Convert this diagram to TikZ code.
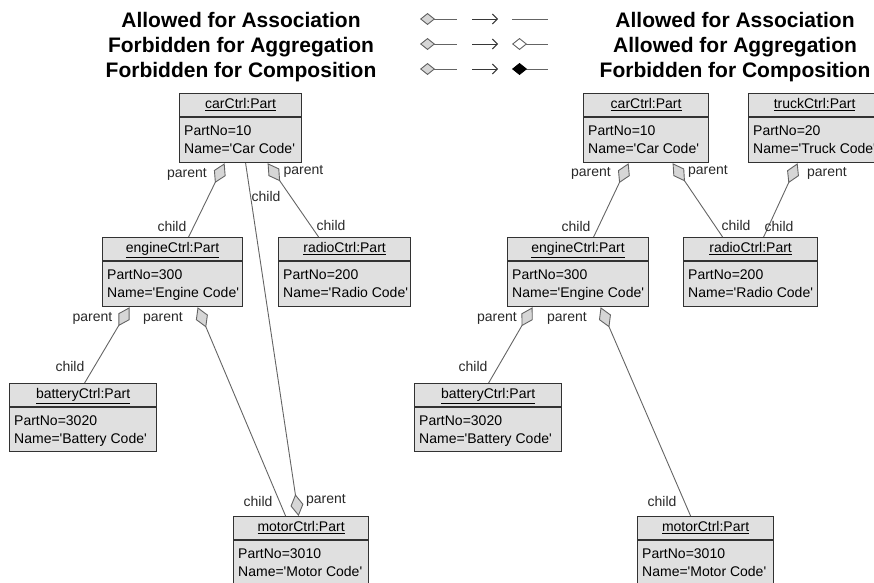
\documentclass[tikz,border=0pt]{standalone}
\usepackage{fontspec}
\setmainfont{Liberation Sans}[Ligatures=TeXOff]
\usetikzlibrary{arrows.meta}

\definecolor{boxfill}{RGB}{224,224,224}
\definecolor{boxedge}{RGB}{50,50,50}
\definecolor{wire}{RGB}{100,100,100}
\definecolor{diafill}{RGB}{214,214,214}
\definecolor{labtext}{RGB}{40,40,40}
\definecolor{arrowcol}{RGB}{55,55,55}

\tikzset{
  objframe/.style={draw=boxedge, fill=boxfill, line width=1.2pt, inner sep=0pt, anchor=north west},
  divider/.style={draw=boxedge, line width=1.2pt},
  boxtext/.style={inner sep=0pt, text height=10.5pt, text depth=3pt, font=\fontsize{14}{16}\selectfont, text=black},
  rolelabel/.style={inner sep=0pt, text height=10.5pt, text depth=3pt, font=\fontsize{14}{16}\selectfont, text=labtext},
  wirestyle/.style={draw=wire, line width=0.9pt},
  partof/.style={wirestyle, {Diamond[length=22pt,width=13pt,fill=diafill,color=wire]}-},
  keydia/.style={wirestyle, {Diamond[length=15pt,width=12pt,fill=diafill,color=wire]}-},
  keyopen/.style={wirestyle, {Diamond[length=15pt,width=12pt,fill=white,color=wire]}-},
  keysolid/.style={wirestyle, {Diamond[length=15pt,width=12pt,fill=black,color=black]}-},
  keyarrow/.style={draw=arrowcol, line width=1pt, -{Straight Barb[length=5pt,width=10pt]}},
  title/.style={inner sep=0pt, anchor=base, font=\fontsize{21}{24}\selectfont\bfseries},
}

% object box: name, x, y, width, height, header, attribute 1, attribute 2
\newcommand\partobject[8]{%
  \node[objframe, minimum width=#4pt, minimum height=#5pt] (#1) at (#2,#3) {};
  \draw[divider] ([yshift=-24pt]#1.north west) -- ([yshift=-24pt]#1.north east);
  \node[boxtext] (#1-head) at ([yshift=-12pt]#1.north) {\underline{#6}};
  \node[boxtext, anchor=west] (#1-a) at ([xshift=5pt,yshift=-39pt]#1.north west) {#7};
  \node[boxtext, anchor=west] (#1-b) at ([xshift=5pt,yshift=-57pt]#1.north west) {#8};
}

\begin{document}
\begin{tikzpicture}[x=1pt, y=-1pt]
\useasboundingbox (0,0) rectangle (874,582);
\clip (0,0) rectangle (874,582);

% ---------- key ----------
\node[title] (tl1) at (241,27) {Allowed for Association};
\node[title] (tl2) at (241,52) {Forbidden for Aggregation};
\node[title] (tl3) at (241,77) {Forbidden for Composition};
\node[title] (tr1) at (735,27) {Allowed for Association};
\node[title] (tr2) at (735,52) {Allowed for Aggregation};
\node[title] (tr3) at (735,77) {Forbidden for Composition};

\coordinate (ka1) at (420,19);   \coordinate (kb1) at (457,19);
\coordinate (ka2) at (420,44);   \coordinate (kb2) at (457,44);
\coordinate (ka3) at (420,69);   \coordinate (kb3) at (457,69);
\coordinate (kc1) at (472,19);   \coordinate (kd1) at (498,19);
\coordinate (kc2) at (472,44);   \coordinate (kd2) at (498,44);
\coordinate (kc3) at (472,69);   \coordinate (kd3) at (498,69);
\coordinate (ke1) at (512,19);   \coordinate (kf1) at (548,19);
\coordinate (ke2) at (512,44);   \coordinate (kf2) at (548,44);
\coordinate (ke3) at (512,69);   \coordinate (kf3) at (548,69);

\draw[keydia] (ka1) -- (kb1);
\draw[keydia] (ka2) -- (kb2);
\draw[keydia] (ka3) -- (kb3);
\draw[keyarrow] (kc1) -- (kd1);
\draw[keyarrow] (kc2) -- (kd2);
\draw[keyarrow] (kc3) -- (kd3);
\draw[wirestyle] (ke1) -- (kf1);
\draw[keyopen] (ke2) -- (kf2);
\draw[keysolid] (ke3) -- (kf3);

% ---------- left structure ----------
\partobject{carL}{179}{93}{122}{69}{carCtrl:Part}{PartNo=10}{Name='Car Code'}
\partobject{engL}{102}{237}{140}{69}{engineCtrl:Part}{PartNo=300}{Name='Engine Code'}
\partobject{radL}{278}{237}{132}{69}{radioCtrl:Part}{PartNo=200}{Name='Radio Code'}
\partobject{batL}{9}{383}{147}{68}{batteryCtrl:Part}{PartNo=3020}{Name='Battery Code'}
\partobject{motL}{233}{516}{135}{74}{motorCtrl:Part}{PartNo=3010}{Name='Motor Code'}

\draw[partof] ([xshift=-16pt]carL.south) -- ([xshift=16pt]engL.north);
\draw[partof] ([xshift=27pt]carL.south) -- ([xshift=-26pt]radL.north);
\draw[partof] ([xshift=-2.5pt]motL.north) -- ([xshift=5pt]carL.south);
\draw[partof] ([xshift=-43pt]engL.south) -- ([xshift=1.5pt]batL.north);
\draw[partof] ([xshift=25pt]engL.south) -- ([xshift=-15.5pt]motL.north);

\node[rolelabel] (lp1) at (187,174) {parent};
\node[rolelabel] (lc1) at (172,228) {child};
\node[rolelabel] (lp2) at (303.5,171) {parent};
\node[rolelabel] (lc2) at (331,227) {child};
\node[rolelabel] (lc3) at (266,198) {child};
\node[rolelabel] (lp3) at (326,500) {parent};
\node[rolelabel] (lc5) at (258,503) {child};
\node[rolelabel] (lp4) at (92.5,318) {parent};
\node[rolelabel] (lp5) at (163,318) {parent};
\node[rolelabel] (lc4) at (70,368) {child};

% ---------- right structure ----------
\partobject{carR}{583}{93}{125}{69}{carCtrl:Part}{PartNo=10}{Name='Car Code'}
\partobject{trkR}{748}{93}{132}{69}{truckCtrl:Part}{PartNo=20}{Name='Truck Code'}
\partobject{engR}{507}{237}{141}{69}{engineCtrl:Part}{PartNo=300}{Name='Engine Code'}
\partobject{radR}{683}{237}{134}{69}{radioCtrl:Part}{PartNo=200}{Name='Radio Code'}
\partobject{batR}{414}{383}{147}{68}{batteryCtrl:Part}{PartNo=3020}{Name='Battery Code'}
\partobject{motR}{637}{516}{136}{74}{motorCtrl:Part}{PartNo=3010}{Name='Motor Code'}

\draw[partof] ([xshift=-17.5pt]carR.south) -- ([xshift=15.5pt]engR.north);
\draw[partof] ([xshift=26.5pt]carR.south) -- ([xshift=-28pt]radR.north);
\draw[partof] ([xshift=-17pt]trkR.south) -- ([xshift=13pt]radR.north);
\draw[partof] ([xshift=-45.5pt]engR.south) -- ([xshift=0.5pt]batR.north);
\draw[partof] ([xshift=22.5pt]engR.south) -- ([xshift=-15pt]motR.north);

\node[rolelabel] (rp1) at (591,173) {parent};
\node[rolelabel] (rc1) at (576,228) {child};
\node[rolelabel] (rp2) at (708,171) {parent};
\node[rolelabel] (rc2) at (736,227) {child};
\node[rolelabel] (rp3) at (827,173) {parent};
\node[rolelabel] (rc3) at (779,228) {child};
\node[rolelabel] (rp4) at (497,318) {parent};
\node[rolelabel] (rp5) at (567,318) {parent};
\node[rolelabel] (rc4) at (473,368) {child};
\node[rolelabel] (rc5) at (662,503) {child};
\end{tikzpicture}
\end{document}
